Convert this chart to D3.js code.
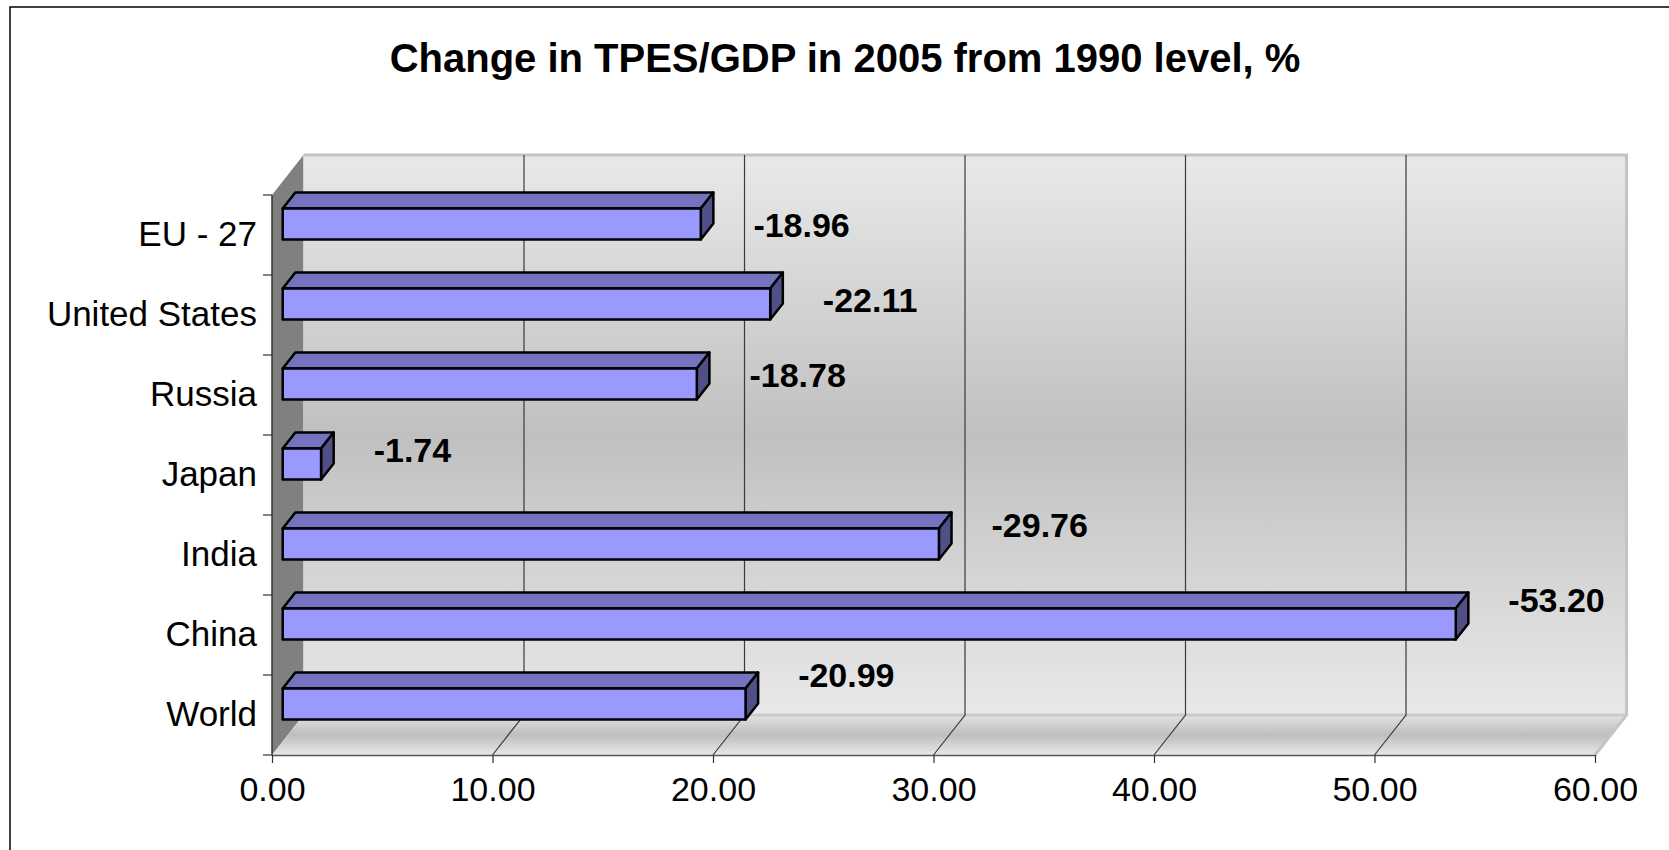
<!DOCTYPE html>
<html>
<head>
<meta charset="utf-8">
<script src="https://cdn.jsdelivr.net/npm/d3@7"></script>
<style>
  body { margin: 0; background: #fff; }
  svg { display: block; font-family: "Liberation Sans", Arial, sans-serif; }
</style>
</head>
<body>
<svg width="1669" height="850"></svg>
<script>
const categories = ["EU - 27", "United States", "Russia", "Japan", "India", "China", "World"];
const changePct = [-18.96, -22.11, -18.78, -1.74, -29.76, -53.2, -20.99];
const xTicks = [0, 10, 20, 30, 40, 50, 60];
const titleText = "Change in TPES/GDP in 2005 from 1990 level, %";

const data = categories.map((c, i) => ({ cat: c, value: changePct[i], i }));

const svg = d3.select("svg");
const width = +svg.attr("width");
const height = +svg.attr("height");

const fmt = d3.formatLocale({ decimal: ".", thousands: ",", grouping: [3], currency: ["", ""], minus: "-" }).format(".2f");

// front plane of the 3d box
const plot = { left: 272, right: 1595, top: 195, bottom: 755 };
// depth vector from front plane to back wall
const depth = { x: 31.5, y: -40 };
const barFront = 0.34;
const barBack = 0.74;

const xScale = d3.scaleLinear().domain([0, 60]).range([plot.left, plot.right]);
const yScale = d3.scaleBand().domain(categories).range([plot.top, plot.bottom]);

const defs = svg.append("defs");
const wallGrad = defs.append("linearGradient")
  .attr("id", "wall").attr("x1", 0).attr("y1", 0).attr("x2", 0).attr("y2", 1);
wallGrad.append("stop").attr("offset", "0%").attr("stop-color", "#e9e9e9");
wallGrad.append("stop").attr("offset", "50%").attr("stop-color", "#c0c0c0");
wallGrad.append("stop").attr("offset", "100%").attr("stop-color", "#e9e9e9");

const floorGrad = defs.append("linearGradient")
  .attr("id", "floor").attr("x1", 0).attr("y1", 0).attr("x2", 0).attr("y2", 1);
floorGrad.append("stop").attr("offset", "0%").attr("stop-color", "#e2e2e2");
floorGrad.append("stop").attr("offset", "50%").attr("stop-color", "#bebebe");
floorGrad.append("stop").attr("offset", "100%").attr("stop-color", "#e8e8e8");

// outer chart border
svg.append("rect")
  .attr("x", 10).attr("y", 7)
  .attr("width", width + 20).attr("height", height + 20)
  .attr("fill", "none").attr("stroke", "#000").attr("stroke-width", 1.5);

svg.append("text")
  .attr("x", 845).attr("y", 72)
  .attr("text-anchor", "middle")
  .attr("font-size", 40).attr("font-weight", "bold")
  .text(titleText);

const backLeft = plot.left + depth.x;
const backTop = plot.top + depth.y;
const backBottom = plot.bottom + depth.y;
const backRight = plot.right + depth.x;

// side wall
svg.append("polygon")
  .attr("points", [
    [plot.left, plot.top], [backLeft, backTop],
    [backLeft, backBottom], [plot.left, plot.bottom]
  ].join(" "))
  .attr("fill", "#808080");

// back wall
svg.append("rect")
  .attr("x", backLeft).attr("y", backTop)
  .attr("width", backRight - backLeft).attr("height", backBottom - backTop)
  .attr("fill", "url(#wall)");

// floor
svg.append("polygon")
  .attr("points", [
    [plot.left, plot.bottom], [backLeft, backBottom],
    [backRight, backBottom], [plot.right, plot.bottom]
  ].join(" "))
  .attr("fill", "url(#floor)");

// light edges of the walls
svg.append("path")
  .attr("d", `M${backLeft},${backTop}H${backRight}V${backBottom}L${plot.right},${plot.bottom}`)
  .attr("fill", "none").attr("stroke", "#c4c4c4").attr("stroke-width", 3);
svg.append("line")
  .attr("x1", backLeft).attr("x2", backRight)
  .attr("y1", backBottom).attr("y2", backBottom)
  .attr("stroke", "#cacaca").attr("stroke-width", 3);

// gridlines on wall and floor
const inner = xTicks.slice(1, -1);
svg.append("g").selectAll("path")
  .data(inner)
  .join("path")
  .attr("d", (t) => {
    const xb = xScale(t) + depth.x;
    return `M${xb},${backTop}V${backBottom}L${xScale(t)},${plot.bottom}`;
  })
  .attr("fill", "none").attr("stroke", "#3a3a3a").attr("stroke-width", 1.2);

// x axis
const xAxis = d3.axisBottom(xScale)
  .tickValues(xTicks)
  .tickFormat(fmt)
  .tickSize(8)
  .tickPadding(14)
  .tickSizeOuter(0);
const gx = svg.append("g")
  .attr("transform", `translate(0, ${plot.bottom})`)
  .call(xAxis);
gx.select(".domain").attr("stroke", "#555").attr("stroke-width", 1.5);
gx.selectAll(".tick line").attr("stroke", "#333").attr("stroke-width", 1.2);
gx.selectAll("text").attr("font-size", 34).attr("fill", "#000")
  .attr("font-family", "'Liberation Sans', Arial, sans-serif");

// y axis
const yAxis = d3.axisLeft(yScale).tickSize(0).tickPadding(15);
const gy = svg.append("g")
  .attr("transform", `translate(${plot.left}, 0)`)
  .call(yAxis);
gy.select(".domain").remove();
gy.selectAll("text").attr("font-size", 35).attr("fill", "#000")
  .attr("dy", "0.3em")
  .attr("font-family", "'Liberation Sans', Arial, sans-serif");

svg.append("line")
  .attr("x1", plot.left).attr("x2", plot.left)
  .attr("y1", plot.top).attr("y2", plot.bottom)
  .attr("stroke", "#333").attr("stroke-width", 1.5);
svg.append("g").selectAll("line")
  .data(categories.concat([null]))
  .join("line")
  .attr("x1", plot.left - 9).attr("x2", plot.left)
  .attr("y1", (c) => (c === null ? plot.bottom : yScale(c)))
  .attr("y2", (c) => (c === null ? plot.bottom : yScale(c)))
  .attr("stroke", "#333").attr("stroke-width", 1.2);

// 3d bars
const barH = 31;
const fdx = depth.x * barFront, fdy = depth.y * barFront;
const ddx = depth.x * (barBack - barFront), ddy = depth.y * (barBack - barFront);

const bars = svg.append("g").selectAll("g")
  .data(data)
  .join("g")
  .attr("stroke", "#000").attr("stroke-width", 2.5).attr("stroke-linejoin", "round");

const geom = (d) => {
  const x0 = xScale(0) + fdx;
  const x1 = xScale(Math.abs(d.value)) + fdx;
  const y0 = yScale(d.cat) + 27 + fdy;
  return { x0, x1, y0, y1: y0 + barH };
};

bars.append("polygon")
  .attr("fill", "#7373bf")
  .attr("points", (d) => {
    const g = geom(d);
    return [[g.x0, g.y0], [g.x1, g.y0], [g.x1 + ddx, g.y0 + ddy], [g.x0 + ddx, g.y0 + ddy]].join(" ");
  });
bars.append("polygon")
  .attr("fill", "#505088")
  .attr("points", (d) => {
    const g = geom(d);
    return [[g.x1, g.y0], [g.x1 + ddx, g.y0 + ddy], [g.x1 + ddx, g.y1 + ddy], [g.x1, g.y1]].join(" ");
  });
bars.append("rect")
  .attr("fill", "#9999ff")
  .attr("x", (d) => geom(d).x0)
  .attr("y", (d) => geom(d).y0)
  .attr("width", (d) => geom(d).x1 - geom(d).x0)
  .attr("height", barH);

// value labels
svg.append("g").selectAll("text")
  .data(data)
  .join("text")
  .attr("x", (d) => geom(d).x1 + ddx + 40)
  .attr("y", (d) => geom(d).y0 + 29 - 5 * d.i)
  .attr("font-size", 34).attr("font-weight", "bold")
  .text((d) => fmt(d.value));
</script>
</body>
</html>
